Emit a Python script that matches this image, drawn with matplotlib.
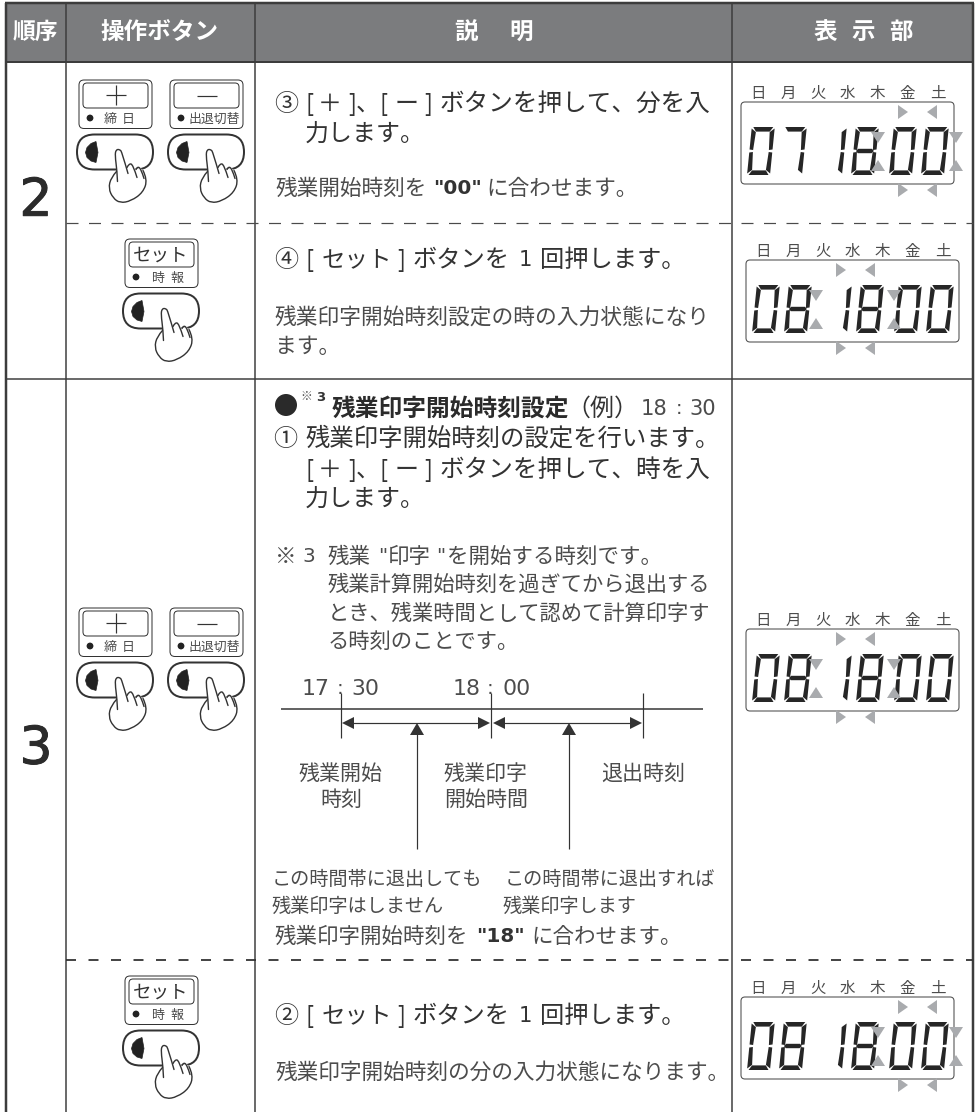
import matplotlib
matplotlib.use("Agg")
import matplotlib.pyplot as plt
import matplotlib.patheffects as pe
from matplotlib.patches import FancyBboxPatch, Polygon, PathPatch, Circle
from matplotlib.path import Path

plt.rcParams['font.family'] = ['Noto Sans CJK JP', 'DejaVu Sans']

# table texts
HEADERS = ["順序", "操作ボタン", "説", "明", "表", "示", "部"]
STEPS = ["2", "3"]
WEEKDAYS = ["日", "月", "火", "水", "木", "金", "土"]
DISPLAYS = ["071800", "081800", "081800", "081800"]
BLINK_PAIR = ["minutes", "hours", "hours", "minutes"]
TIME_LABELS = ["17:30", "18:00"]
EXAMPLE_TIME = "18:30"
NOTE_LINES = ["残業計算開始時刻を過ぎてから退出する", "とき、残業時間として認めて計算印字す", "る時刻のことです。"]
SPAN_LABELS = [["残業開始", "時刻"], ["残業印字", "開始時間"], ["退出時刻"]]
LEFT_NOTE = ["この時間帯に退出しても", "残業印字はしません"]
RIGHT_NOTE = ["この時間帯に退出すれば", "残業印字します"]

DARK = "#333333"
SOFT = "#4c4c4c"
ARROW_GREY = "#a9abae"
PX = 0.72  # 1 px in points at dpi 100

fig = plt.figure(figsize=(9.78, 11.12), dpi=100)
ax = fig.add_axes([0, 0, 1, 1])
ax.set_xlim(0, 978)
ax.set_ylim(1112, 0)
ax.axis("off")


def txt(x, y, s, size, color=DARK, ha="left", weight="normal", family=None, **extra):
    # y is the middle of the em box, size in px
    kw = {"family": family} if family else {}
    return ax.text(x, y + 0.36 * size, s, fontsize=size * PX, color=color, ha=ha, va="baseline",
                   fontweight=weight, **kw, **extra)


def line(xs, ys, lw=1.0, color=DARK, **kw):
    ax.plot(xs, ys, color=color, lw=lw * PX, solid_capstyle="butt", **kw)


def smooth_path(pts):
    verts = [pts[0]]
    codes = [Path.MOVETO]
    for i in range(1, len(pts) - 1):
        mid = ((pts[i][0] + pts[i + 1][0]) / 2, (pts[i][1] + pts[i + 1][1]) / 2)
        if i == len(pts) - 2:
            mid = pts[-1]
        verts += [pts[i], mid]
        codes += [Path.CURVE3, Path.CURVE3]
    return Path(verts, codes)


def rbox(x0, y0, x1, y1, r, lw=1.0, ec=DARK, fc="white", z=2):
    ax.add_patch(FancyBboxPatch((x0, y0), x1 - x0, y1 - y0, boxstyle=f"round,pad=0,rounding_size={r}",
                                ec=ec, fc=fc, lw=lw * PX, zorder=z))


def push_button(x, y):
    # x, y = top left corner of the pill
    rbox(x, y, x + 76, y + 35, 17.5, lw=2.0, z=2)
    lens = [(x + 19, y + 7), (x + 14, y + 9), (x + 10, y + 13), (x + 8.5, y + 18), (x + 10, y + 23),
            (x + 14, y + 26.5), (x + 19, y + 28), (x + 21, y + 18)]
    ax.add_patch(Polygon(lens, closed=True, fc="#222222", ec="#222222", lw=0.5, zorder=3))
    body = [(40, 36), (38, 21), (41.7, 15.3), (45, 17), (50, 33), (55, 30), (59, 35), (63, 33), (67, 37),
            (70, 45), (66, 58), (54, 66), (43, 68), (36, 63), (32, 54), (34, 43)]
    ax.add_patch(Polygon([(x + u, y + v) for u, v in body], closed=True, fc="white", ec="none", zorder=4))
    strokes = [
        [(40.5, 47), (40, 36), (38, 21), (39, 15), (43, 15), (45, 18), (51, 39)],
        [(39.5, 37), (34, 43), (31.5, 54), (36, 63.5), (43, 68.5), (54, 66.5), (66, 58), (70.5, 45), (66, 36)],
        [(50, 33), (52, 29), (56, 30), (60, 43)],
        [(59, 35), (60, 32), (64, 34), (67, 44)],
    ]
    for st in strokes:
        pts = [(x + u, y + v) for u, v in st]
        ax.add_patch(PathPatch(smooth_path(pts), fc="none", ec=DARK, lw=1.4 * PX, zorder=5,
                               capstyle="round", joinstyle="round"))


def key_box(x, y, w=73):
    # two nested rounded boxes of a key cap
    rbox(x, y, x + w, y + 48.5, 5, lw=1.0)
    rbox(x + 4, y + 3, x + w - 4, y + 28, 4, lw=1.0, z=3)


def plus_minus_keys(y):
    key_box(79, y)
    line([106, 126], [y + 15, y + 15], 1.2, zorder=4)
    line([116, 116], [y + 5, y + 25], 1.2, zorder=4)
    ax.add_patch(Circle((90, y + 38), 3.4, fc="#222222", ec="none", zorder=4))
    txt(110, y + 38, "締", 13, ha="center", color=SOFT, zorder=4)
    txt(128, y + 38, "日", 13, ha="center", color=SOFT, zorder=4)
    push_button(77, y + 54.5)
    key_box(170, y)
    line([197, 217], [y + 16, y + 16], 1.2, zorder=4)
    ax.add_patch(Circle((181, y + 38), 3.4, fc="#222222", ec="none", zorder=4))
    txt(188.5, y + 38, "出退切替", 12.9, color=SOFT, zorder=4)
    push_button(168, y + 54.5)


def set_key(y):
    key_box(125, y)
    txt(161, y + 15, "セット", 18.5, ha="center", color=DARK, zorder=4)
    ax.add_patch(Circle((136, y + 38), 3.4, fc="#222222", ec="none", zorder=4))
    txt(158, y + 38, "時", 13, ha="center", color=SOFT, zorder=4)
    txt(177, y + 38, "報", 13, ha="center", color=SOFT, zorder=4)
    push_button(123, y + 54.5)


# seven segments: corners in a 23 x 48 cell
W, H, T = 23.0, 48.0, 4.6
SEGS = {
    "a": [(1.5, 0), (W - 1.5, 0), (W - T, T), (T, T)],
    "b": [(W, 1.5), (W, H / 2 - 1.5), (W - T + 1, H / 2 - 1), (W - T, T + 0.5)],
    "c": [(W, H / 2 + 1.5), (W, H - 1.5), (W - T, H - T - 0.5), (W - T + 1, H / 2 + 1)],
    "d": [(T, H - T), (W - T, H - T), (W - 1.5, H), (1.5, H)],
    "e": [(0, H / 2 + 1.5), (T - 1, H / 2 + 1), (T, H - T - 0.5), (0, H - 1.5)],
    "f": [(0, 1.5), (T, T + 0.5), (T - 1, H / 2 - 1), (0, H / 2 - 1.5)],
    "g": [(T, H / 2 - 2.2), (W - T, H / 2 - 2.2), (W - 2.5, H / 2), (W - T, H / 2 + 2.2), (T, H / 2 + 2.2), (2.5, H / 2)],
}
DIGIT_SEGS = {"0": "abcdef", "1": "bc", "7": "abc", "8": "abcdefg"}
DIGIT_POS = [6, 38, 78, 110, 148, 180]


def seven_seg(x, y, digit):
    for name in DIGIT_SEGS[digit]:
        pts = [(x + u + (H - v) * 0.1, y + v) for u, v in SEGS[name]]
        ax.add_patch(Polygon(pts, closed=True, fc="#262626", ec="none", zorder=3))


def tri(pts):
    ax.add_patch(Polygon(pts, closed=True, fc=ARROW_GREY, ec="none", zorder=4))


def blink_marks(c, y):
    for top in (y + 3, y + 81):
        tri([(c - 19, top), (c - 9, top + 7), (c - 19, top + 14)])
        tri([(c + 20, top), (c + 10, top + 7), (c + 20, top + 14)])
    for mid in (c - 39, c + 39):
        tri([(mid - 7, y + 30), (mid + 7, y + 30), (mid, y + 41)])
        tri([(mid - 7, y + 69), (mid + 7, y + 69), (mid, y + 58)])


def lcd(x, y, digits, pair):
    for i, d in enumerate(WEEKDAYS):
        txt(x + 17 + i * 29.9, y - 10, d, 15.5, ha="center", color=SOFT)
    rbox(x, y, x + 213, y + 82, 4, lw=1.1, ec="#555555")
    for off, d in zip(DIGIT_POS, digits):
        seven_seg(x + off, y + 25, d)
    blink_marks(x + (176 if pair == "minutes" else 109), y)


# ---- table frame ----
ax.add_patch(Polygon([(6, 3), (973, 3), (973, 62), (6, 62)], closed=True, fc="#7b7c7e", ec="none", zorder=0))
for x in (66, 255, 732):
    line([x, x], [3, 1112], 1.5, color="#3c3c3c", zorder=1)
for x in (6, 973):
    line([x, x], [3, 1112], 2.5, color="#3c3c3c", zorder=1)
line([5, 974], [3, 3], 2.5, color="#3c3c3c", zorder=1)
line([5, 974], [62, 62], 2.0, color="#3c3c3c", zorder=1)
line([6, 973], [379, 379], 1.5, color="#3c3c3c", zorder=1)
ax.plot([66, 973], [223, 223], color="#4a4a4a", lw=1.2 * PX, dashes=(12 / 1.2, 10.5 / 1.2), zorder=1)
ax.plot([66, 973], [960, 960], color="#333333", lw=1.8 * PX, dashes=(10 / 1.8, 12.5 / 1.8), zorder=1)

# header
txt(13, 31, HEADERS[0], 22.8, color="white", weight="bold")
txt(100, 31, HEADERS[1], 23.6, color="white", weight="bold")
for x, s in zip((466, 521, 825, 863, 901), HEADERS[2:]):
    txt(x, 31, s, 23.5, color="white", ha="center", weight="bold")

# step numbers
for y, s in zip((197, 745), STEPS):
    txt(36, y, s, 52, ha="center", family="DejaVu Sans", color="#2b2b2b",
        path_effects=[pe.withStroke(linewidth=0.7, foreground="#2b2b2b")])

# keys
plus_minus_keys(80)
set_key(239)
plus_minus_keys(608)
set_key(976)

# displays
lcd(741, 102, DISPLAYS[0], BLINK_PAIR[0])
lcd(746, 260, DISPLAYS[1], BLINK_PAIR[1])
lcd(746, 629, DISPLAYS[2], BLINK_PAIR[2])
lcd(741, 997, DISPLAYS[3], BLINK_PAIR[3])


def bracket_line(y, word):
    txt(305, y, "[", 24)
    txt(330, y, "＋", 24, ha="center")
    txt(348, y, "]、", 24)
    txt(380, y, "[", 24)
    txt(407, y, "ー", 24, ha="center")
    txt(424, y, "]", 24)
    txt(440, y, "ボタンを押して、" + word + "を入", 24.6)


def press_once_line(y, mark):
    txt(274, y, mark, 24)
    txt(305, y, "[", 24)
    txt(322, y, "セット", 23.5)
    txt(397, y, "]", 24)
    txt(413, y, "ボタンを", 24.3)
    txt(519, y, "1", 21, family="DejaVu Sans")
    txt(540, y, "回押します。", 24.3)


def clock_text(x_h, x_c, x_m, y, value, size):
    h, m = value.split(":")
    txt(x_h, y, h, size, color=SOFT, family="DejaVu Sans")
    txt(x_c, y, ":", size - 2, color=SOFT, family="DejaVu Sans")
    txt(x_m, y, m, size, color=SOFT, family="DejaVu Sans")


# row 2 upper
txt(274, 102, "③", 24)
bracket_line(102, "分")
txt(305, 132, "力します。", 24)
txt(275, 187, "残業開始時刻を", 21.7, color=SOFT)
txt(433, 187, '"00"', 20, weight="bold", family="DejaVu Sans")
txt(486, 187, "に合わせます。", 21.7, color=SOFT)

# row 2 lower
press_once_line(258, "④")
txt(275, 317, "残業印字開始時刻設定の時の入力状態になり", 21.75, color=SOFT)
txt(275, 345, "ます。", 21.75, color=SOFT)

# row 3 explanation
ax.add_patch(Circle((286, 405), 11, fc="#2a2a2a", ec="none"))
txt(300, 396, "※", 12, color=SOFT)
txt(316, 396, "3", 13, weight="bold", family="DejaVu Sans")
txt(332, 407, "残業印字開始時刻設定", 23.7, weight="bold", color="#2b2b2b")
txt(566, 407, "（例）", 24)
clock_text(641, 676, 689, 407, EXAMPLE_TIME, 21)
txt(273, 437, "①", 24)
txt(305, 437, "残業印字開始時刻の設定を行います。", 24.4)
bracket_line(468, "時")
txt(305, 497, "力します。", 24)
txt(275, 555, "※", 21.5, color=SOFT)
txt(302, 555, "3", 20, color=SOFT, family="DejaVu Sans")
txt(328, 555, "残業", 21.5, color=SOFT)
txt(378, 555, '"', 20, color=SOFT, family="DejaVu Sans")
txt(388, 555, "印字", 21.5, color=SOFT)
txt(436, 555, '"', 20, color=SOFT, family="DejaVu Sans")
txt(447, 555, "を開始する時刻です。", 21.5, color=SOFT)
for y, s in zip((583, 612, 640), NOTE_LINES):
    txt(328, y, s, 21.3, color=SOFT)

# time line
clock_text(302, 337, 351, 687, TIME_LABELS[0], 22)
clock_text(453, 487, 502, 687, TIME_LABELS[1], 22)
line([281, 703], [709, 709], 1.5)
for x in (341, 491, 643):
    line([x, x], [693, 738], 1.2)
for x0, x1 in ((341, 491), (492, 643)):
    line([x0 + 8, x1 - 8], [723, 723], 1.2)
    ax.add_patch(Polygon([(x0 + 1, 723), (x0 + 13, 717), (x0 + 13, 729)], closed=True, fc=DARK, ec="none"))
    ax.add_patch(Polygon([(x1 - 1, 723), (x1 - 13, 717), (x1 - 13, 729)], closed=True, fc=DARK, ec="none"))
for x in (417, 569):
    line([x, x], [732, 849], 1.2)
    ax.add_patch(Polygon([(x, 723), (x - 7, 735), (x + 7, 735)], closed=True, fc=DARK, ec="none"))
for x, lines in zip((341, 486, 643), SPAN_LABELS):
    for y, s in zip((772, 798), lines):
        txt(x, y, s, 21, ha="center", color=SOFT)
for y, s in zip((878, 905), LEFT_NOTE):
    txt(272, y, s, 19.2, color=SOFT)
txt(505, 878, RIGHT_NOTE[0], 19.2, color=SOFT)
txt(503, 905, RIGHT_NOTE[1], 19.2, color=SOFT)
txt(275, 935, "残業印字開始時刻を", 21.5, color=SOFT)
txt(476, 935, '"18"', 20, weight="bold", family="DejaVu Sans")
txt(531, 935, "に合わせます。", 21.5, color=SOFT)

# row 3 lower
press_once_line(1014, "②")
txt(275, 1071, "残業印字開始時刻の分の入力状態になります。", 21.7, color=SOFT)

fig.savefig("out.png", dpi=100)
